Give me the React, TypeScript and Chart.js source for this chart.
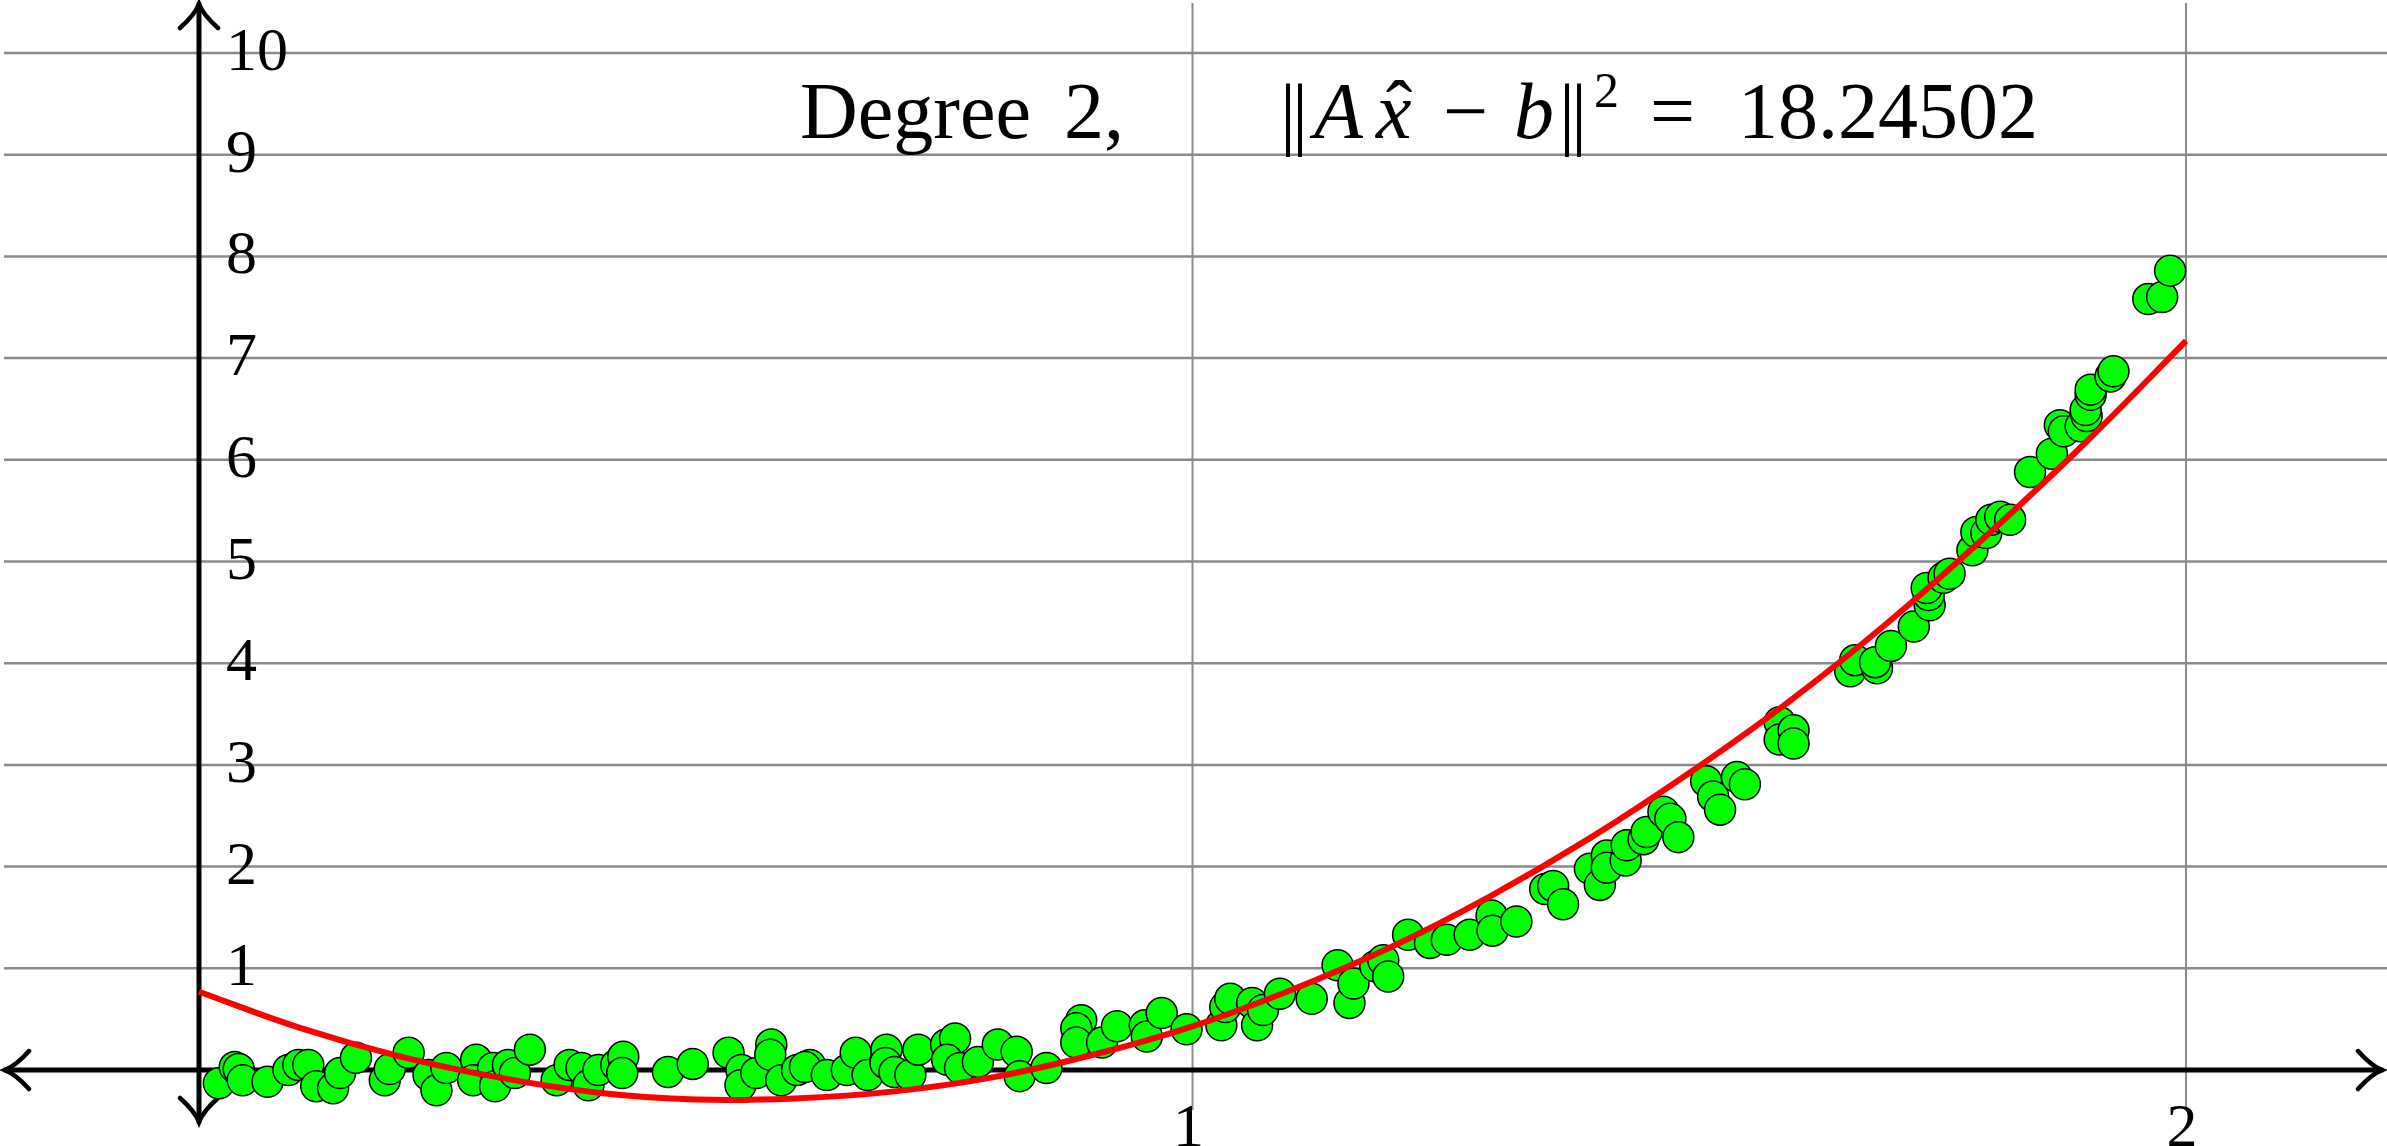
import React, { useEffect, useRef } from "react";
import { Chart, registerables } from "chart.js";

Chart.register(...registerables);

// ---------- data ----------
const xGridValues = [1, 2];
const xTickLabels = ["1", "2"];
const yGridValues = [1, 2, 3, 4, 5, 6, 7, 8, 9, 10];
const yTickLabels = ["1", "2", "3", "4", "5", "6", "7", "8", "9", "10"];

const titleWord = "Degree";
const titleDegree = "2,";
const residualValue = "18.24502";

const pointX = [
  0.020, 0.036, 0.040, 0.044, 0.069, 0.090, 0.100, 0.110, 0.118, 0.135,
  0.142, 0.158, 0.187, 0.192, 0.211, 0.231, 0.239, 0.249, 0.279, 0.276,
  0.296, 0.298, 0.311, 0.318, 0.333, 0.360, 0.373, 0.385, 0.392,
  0.402, 0.420, 0.427, 0.426, 0.472, 0.497, 0.533, 0.546, 0.545, 0.561,
  0.576, 0.575, 0.586, 0.602, 0.615, 0.610, 0.632, 0.652, 0.661, 0.673,
  0.692, 0.691, 0.700, 0.716, 0.724, 0.752, 0.761, 0.753, 0.766, 0.784,
  0.804,
  0.823, 0.826, 0.853, 0.888, 0.883, 0.883, 0.909, 0.924, 0.952, 0.954,
  0.969, 0.994, 1.029, 1.033, 1.038, 1.060, 1.065, 1.071, 1.088, 1.120,
  1.146, 1.158, 1.162, 1.184, 1.192, 1.197,
  1.217, 1.239, 1.256, 1.279, 1.301, 1.302, 1.326, 1.355, 1.363, 1.373,
  1.400, 1.410, 1.417, 1.417, 1.436, 1.437, 1.454, 1.457, 1.474, 1.481,
  1.489, 1.517, 1.524, 1.531, 1.548, 1.556, 1.591, 1.591, 1.605, 1.605,
  1.662, 1.667, 1.689, 1.687, 1.703, 1.726, 1.742, 1.741, 1.739, 1.756,
  1.762, 1.785, 1.789, 1.799, 1.804, 1.813, 1.823, 1.843, 1.865, 1.873,
  1.877, 1.894, 1.900, 1.899, 1.904, 1.904, 1.924, 1.927, 1.962, 1.976,
  1.984,
];

const pointY = [
  -0.13, 0.03, 0.01, -0.10, -0.115, 0.00, 0.05, 0.05, -0.16, -0.18,
  -0.03, 0.12, -0.10, 0.01, 0.17, -0.05, -0.20, 0.02, 0.10, -0.10,
  0.02, -0.16, 0.05, -0.03, 0.20, -0.10, 0.05, 0.02, -0.15,
  0.00, 0.05, 0.13, -0.03, -0.02, 0.06, 0.17, 0.00, -0.15, -0.03,
  0.25, 0.15, -0.10, 0.00, 0.05, 0.03, -0.05, 0.00, 0.17, -0.05,
  0.20, 0.07, -0.02, -0.05, 0.20, 0.25, 0.31, 0.10, 0.02, 0.08,
  0.25,
  0.18, -0.06, 0.02, 0.49, 0.41, 0.27, 0.27, 0.43, 0.44, 0.33,
  0.56, 0.40, 0.44, 0.62, 0.70, 0.66, 0.44, 0.59, 0.75, 0.70,
  1.03, 0.66, 0.85, 1.02, 1.08, 0.92,
  1.33, 1.25, 1.28, 1.33, 1.52, 1.37, 1.46, 1.78, 1.81, 1.63,
  1.98, 1.82, 2.11, 1.99, 2.06, 2.21, 2.27, 2.34, 2.54, 2.47,
  2.29, 2.84, 2.69, 2.56, 2.88, 2.81, 3.42, 3.25, 3.34, 3.21,
  3.92, 4.03, 3.95, 4.01, 4.17, 4.36, 4.57, 4.67, 4.74, 4.84,
  4.88, 5.11, 5.29, 5.28, 5.41, 5.44, 5.41, 5.88, 6.06, 6.34,
  6.28, 6.33, 6.43, 6.49, 6.64, 6.69, 6.82, 6.87, 7.58, 7.60,
  7.86,
];

const fitX = [0, 0.1, 0.2, 0.3, 0.4, 0.5, 0.6, 0.7, 0.8, 0.9, 1.0, 1.1, 1.2, 1.3, 1.4, 1.5, 1.6, 1.7, 1.8, 1.9, 2.0];
const fitY = [0.77, 0.42, 0.14, -0.07, -0.22, -0.29, -0.28, -0.21, -0.07, 0.15, 0.43, 0.79, 1.21, 1.71, 2.28, 2.92, 3.62, 4.40, 5.26, 6.18, 7.17];

// ---------- drawing helpers ----------
const W = 2387;
const H = 1146;
const SERIF = '"Liberation Serif", "Times New Roman", serif';

function arrowHead(ctx: CanvasRenderingContext2D, tx: number, ty: number, dx: number, dy: number) {
  const back = 24;
  const half = 19;
  const px = -dy;
  const py = dx;
  const a1x = tx - dx * back + px * half;
  const a1y = ty - dy * back + py * half;
  const a2x = tx - dx * back - px * half;
  const a2y = ty - dy * back - py * half;
  const c1x = tx - dx * back * 0.45 + px * half * 0.22;
  const c1y = ty - dy * back * 0.45 + py * half * 0.22;
  const c2x = tx - dx * back * 0.45 - px * half * 0.22;
  const c2y = ty - dy * back * 0.45 - py * half * 0.22;
  ctx.beginPath();
  ctx.moveTo(a1x, a1y);
  ctx.quadraticCurveTo(c1x, c1y, tx, ty);
  ctx.quadraticCurveTo(c2x, c2y, a2x, a2y);
  ctx.stroke();
}

const texPlugin = {
  id: "texAxes",
  beforeDatasetsDraw(chart: any) {
    const ctx: CanvasRenderingContext2D = chart.ctx;
    const xs = chart.scales.x;
    const ys = chart.scales.y;
    const x0 = xs.getPixelForValue(0);
    const y0 = ys.getPixelForValue(0);
    ctx.save();

    // horizontal grid
    ctx.strokeStyle = "#8a8a8a";
    ctx.lineWidth = 2.5;
    for (const v of yGridValues) {
      const py = ys.getPixelForValue(v);
      ctx.beginPath();
      ctx.moveTo(4, py);
      ctx.lineTo(W, py);
      ctx.stroke();
    }
    // vertical grid
    ctx.lineWidth = 2;
    for (const v of xGridValues) {
      const px = xs.getPixelForValue(v);
      ctx.beginPath();
      ctx.moveTo(px, 3);
      ctx.lineTo(px, 1110);
      ctx.stroke();
    }

    // axes
    ctx.strokeStyle = "#000";
    ctx.lineWidth = 5;
    ctx.lineCap = "round";
    ctx.beginPath();
    ctx.moveTo(5, y0);
    ctx.lineTo(W - 5, y0);
    ctx.stroke();
    ctx.beginPath();
    ctx.moveTo(x0, 4);
    ctx.lineTo(x0, 1122);
    ctx.stroke();
    ctx.lineWidth = 4.5;
    arrowHead(ctx, W - 5, y0, 1, 0);
    arrowHead(ctx, 5, y0, -1, 0);
    arrowHead(ctx, x0, 4, 0, -1);
    arrowHead(ctx, x0, 1122, 0, 1);

    // tick labels
    ctx.fillStyle = "#000";
    ctx.font = `62px ${SERIF}`;
    ctx.textAlign = "left";
    ctx.textBaseline = "alphabetic";
    yGridValues.forEach((v, i) => {
      const py = ys.getPixelForValue(v);
      ctx.fillText(yTickLabels[i], x0 + 27, py + 17);
    });
    ctx.textAlign = "center";
    xGridValues.forEach((v, i) => {
      const px = xs.getPixelForValue(v);
      ctx.fillText(xTickLabels[i], px - 4, 1146);
    });

    // title
    ctx.textAlign = "left";
    ctx.font = `80px ${SERIF}`;
    ctx.fillText(titleWord, 800, 138);
    ctx.fillText(titleDegree, 1064, 138);

    // formula  ||A x^ - b||^2 = value
    const up = `80px ${SERIF}`;
    const it = `italic 80px ${SERIF}`;
    ctx.font = up;
    ctx.fillText("|", 1280, 140);
    ctx.fillText("|", 1292, 140);
    ctx.font = it;
    ctx.fillText("A", 1314, 138);
    ctx.fillText("x", 1376, 138);
    ctx.textAlign = "center";
    ctx.font = up;
    ctx.fillText("\u02C6", 1399, 136);
    ctx.textAlign = "left";
    ctx.fillText("\u2212", 1443, 138);
    ctx.font = it;
    ctx.fillText("b", 1514, 138);
    ctx.font = up;
    ctx.fillText("|", 1559, 140);
    ctx.fillText("|", 1571, 140);
    ctx.font = `50px ${SERIF}`;
    ctx.fillText("2", 1594, 107);
    ctx.font = up;
    ctx.fillText("=", 1650, 138);
    ctx.fillText(residualValue, 1738, 138);

    ctx.restore();
  },
};

export default function App() {
  const canvasRef = useRef<HTMLCanvasElement | null>(null);

  useEffect(() => {
    const canvas = canvasRef.current;
    if (!canvas) return;
    const scatterData = pointX.map((x, i) => ({ x, y: pointY[i] }));
    const fitData = fitX.map((x, i) => ({ x, y: fitY[i] }));

    const chart = new Chart(canvas, {
      type: "scatter",
      data: {
        datasets: [
          {
            type: "line",
            label: "fit",
            data: fitData,
            borderColor: "#ff0000",
            borderWidth: 6,
            pointRadius: 0,
            fill: false,
            tension: 0.4,
            order: 0,
            clip: false,
          } as any,
          {
            type: "scatter",
            label: "data",
            data: scatterData,
            backgroundColor: "#00ff00",
            borderColor: "#000000",
            borderWidth: 1.5,
            pointRadius: 15.5,
            order: 1,
            clip: false,
          } as any,
        ],
      },
      options: {
        responsive: false,
        maintainAspectRatio: false,
        devicePixelRatio: 1,
        animation: false,
        layout: { padding: 0, autoPadding: false },
        plugins: {
          legend: { display: false },
          tooltip: { enabled: false },
          title: { display: false },
        },
        scales: {
          x: { type: "linear", display: false, min: -0.2003, max: 2.2023 },
          y: { type: "linear", display: false, min: -0.747, max: 10.521 },
        },
      } as any,
      plugins: [texPlugin],
    });

    return () => {
      chart.destroy();
    };
  }, []);

  return (
    <div style={{ position: "fixed", left: 0, top: 0, width: W, height: H, background: "#ffffff" }}>
      <canvas ref={canvasRef} width={W} height={H} style={{ display: "block", width: W, height: H }} />
    </div>
  );
}
